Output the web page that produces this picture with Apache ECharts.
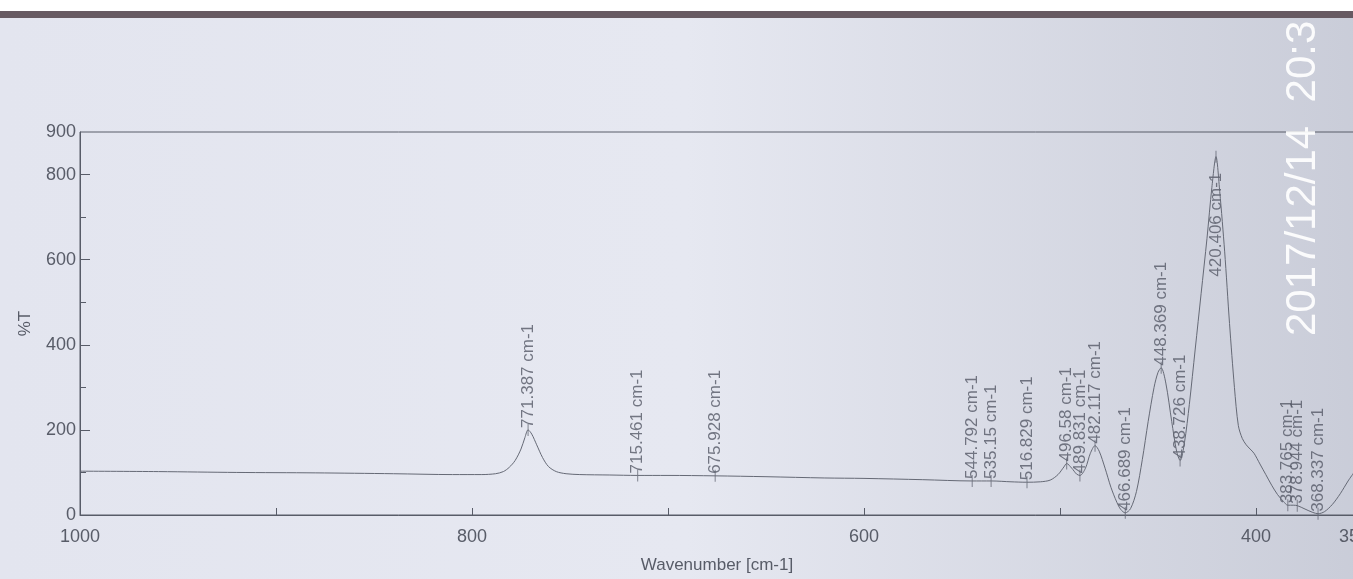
<!DOCTYPE html>
<html>
<head>
<meta charset="utf-8">
<script src="https://cdn.jsdelivr.net/npm/echarts@6/dist/echarts.min.js"></script>
<style>
  html, body { margin: 0; padding: 0; overflow: hidden; }
  #echarts { width: 1372px; height: 579px; }
</style>
</head>
<body>
<div id="echarts"></div>
<script>
// spectrum (wavenumber descending)
var wavenumbers = [1000, 960, 920, 880, 840, 810, 795, 788, 784, 781, 778, 775, 773, 771.4, 769.5, 767, 764, 761, 757, 752,
    745, 730, 715.5, 700, 676, 650, 620, 600, 570, 545, 535, 525, 517, 510, 505, 501, 498, 496.6, 494, 491.5,
    489.8, 487, 484.5, 482.1, 480, 477, 474, 471, 469, 466.7, 464, 461, 458, 455, 452, 450, 448.4, 446, 443, 440.5,
    438.7, 436.5, 434, 431, 428, 425, 422.5, 420.4, 418.5, 416, 413.5, 411, 409, 407, 405, 403, 401, 398, 395, 392,
    389, 386, 383.8, 381, 378.9, 375, 371, 368.3, 365, 361, 357, 353, 350];
var transmittance = [103, 102, 100, 99, 97, 95, 95, 97, 102, 112, 128, 155, 182, 200, 190, 165, 135, 114, 102, 97,
    95, 94, 93, 93, 92, 90, 87, 86, 83, 80, 80, 78, 77, 78, 82, 95, 113, 121, 110, 96,
    93, 110, 145, 163, 150, 110, 65, 30, 13, 5, 15, 55, 130, 220, 300, 335, 346, 310, 220, 150,
    128, 170, 260, 390, 520, 650, 770, 842, 760, 620, 450, 300, 210, 180, 165, 155, 145, 120, 95, 70,
    48, 32, 23, 23, 22, 14, 6, 3, 8, 25, 50, 80, 100];

// labelled peaks
var peakWn = [771.387, 715.461, 675.928, 544.792, 535.15, 516.829, 496.58, 489.831, 482.117, 466.689,
    448.369, 438.726, 420.406, 383.765, 378.944, 368.337];
var peakT = [200, 93, 92, 80, 80, 77, 121, 93, 163, 5, 346, 128, 842, 23, 22, 3];

var xLabels = [1000, 800, 600, 400, 350];
var xTicks = [1000, 900, 800, 700, 600, 500, 400];
var yLabels = [0, 200, 400, 600, 800, 900];
var yTicks = [0, 200, 400, 600, 800];
var yMinorTicks = [100, 300, 500, 700];

var ink = '#585c68';
var font = 'Liberation Sans';

var curve = wavenumbers.map(function (w, i) { return [w, transmittance[i]]; });
var peaks = peakWn.map(function (w, i) {
    var item = { value: [w, peakT[i]], name: w + ' cm-1' };
    if (peakT[i] > 600) {
        item.label = { align: 'right', position: 'bottom', distance: 10 };
    }
    return item;
});

var myChart = echarts.init(document.getElementById('echarts'));
option = {
    backgroundColor: {
        type: 'linear', x: 0, y: 0, x2: 1, y2: 0,
        colorStops: [
            { offset: 0, color: '#e3e5ef' },
            { offset: 0.5, color: '#e6e8f1' },
            { offset: 1, color: '#c9ccd8' }
        ]
    },
    animation: false,
    textStyle: { fontFamily: font },
    grid: {
        left: 80, right: 10, top: 132, bottom: 57,
        show: true, borderColor: ink, borderWidth: 1
    },
    xAxis: {
        type: 'value',
        min: 350, max: 1000,
        inverse: true,
        name: 'Wavenumber [cm-1]',
        nameLocation: 'middle',
        nameGap: 42,
        nameTextStyle: { color: ink, fontSize: 17, fontFamily: font },
        axisLine: { lineStyle: { color: ink } },
        axisTick: { inside: true, length: 7, customValues: xTicks, lineStyle: { color: ink } },
        axisLabel: {
            customValues: xLabels, color: ink, fontSize: 18, margin: 13,
            formatter: function (v) { return String(v); }
        },
        splitLine: { show: false }
    },
    yAxis: [
        {
            type: 'value',
            min: 0, max: 900,
            name: '%T',
            nameLocation: 'middle',
            nameRotate: 90,
            nameGap: 46,
            nameTextStyle: { color: ink, fontSize: 17, fontFamily: font },
            axisLine: { show: true, lineStyle: { color: ink } },
            axisTick: { show: true, inside: true, length: 10, customValues: yTicks, lineStyle: { color: ink } },
            axisLabel: { customValues: yLabels, color: ink, fontSize: 18, margin: 4 },
            splitLine: { show: false }
        },
        {
            type: 'value',
            min: 0, max: 900,
            position: 'left',
            axisLine: { show: false },
            axisTick: { show: true, inside: true, length: 6, customValues: yMinorTicks, lineStyle: { color: ink } },
            axisLabel: { show: false },
            splitLine: { show: false }
        }
    ],
    series: [
        {
            name: 'spectrum',
            type: 'line',
            data: curve,
            smooth: 0.3,
            showSymbol: false,
            lineStyle: { color: '#656975', width: 1 },
            silent: true
        },
        {
            name: 'peaks',
            type: 'scatter',
            data: peaks,
            symbol: 'rect',
            symbolSize: [1, 12],
            itemStyle: { color: '#656975' },
            label: {
                show: true,
                formatter: '{b}',
                position: 'top',
                distance: -4,
                rotate: 90,
                align: 'left',
                verticalAlign: 'middle',
                color: '#555966',
                fontSize: 17,
                fontFamily: font
            },
            silent: true
        }
    ],
    graphic: [
        { type: 'rect', left: 0, top: 0, shape: { width: 1372, height: 11 }, style: { fill: '#ffffff' } },
        { type: 'rect', left: 0, top: 11, shape: { width: 1372, height: 7 }, style: { fill: '#675a62' } },
        {
            type: 'text',
            x: 1303, y: 336,
            rotation: Math.PI / 2,
            style: {
                text: '2017/12/14  20:3',
                fill: 'rgba(255,255,255,0.92)',
                fontSize: 42,
                fontFamily: font,
                align: 'left',
                verticalAlign: 'middle'
            }
        }
    ]
};
myChart.setOption(option);
</script>
</body>
</html>
